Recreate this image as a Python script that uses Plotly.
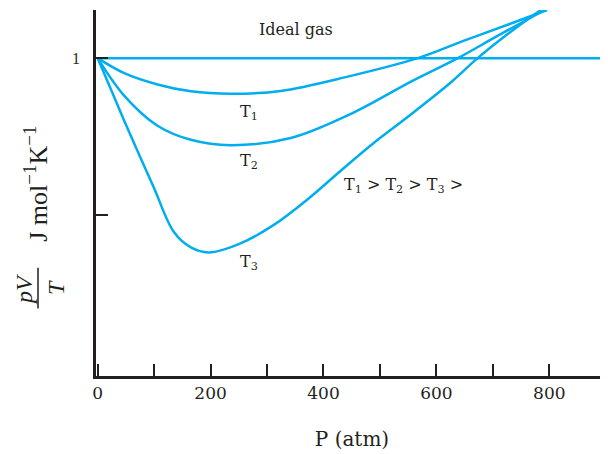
import plotly.graph_objects as go

# pressure (atm) and pV/T (relative units, 1 = ideal gas)
ideal_p = [0, 910]
ideal_v = [1.0, 1.0]

t1_p = [0, 46, 106, 165, 236, 324, 443, 567, 649, 737, 796]
t1_v = [1.0, 0.953, 0.916, 0.894, 0.886, 0.895, 0.941, 1.0, 1.056, 1.114, 1.154]

t2_p = [0, 46, 106, 165, 236, 342, 454, 555, 638, 709, 792]
t2_v = [1.0, 0.882, 0.784, 0.739, 0.722, 0.745, 0.827, 0.925, 1.0, 1.072, 1.154]

t3_p = [0, 23, 46, 99, 135, 165, 197, 253, 312, 372, 431, 489, 549, 626, 673, 727, 785]
t3_v = [1.0, 0.902, 0.804, 0.588, 0.444, 0.395, 0.379, 0.408, 0.467, 0.549, 0.641, 0.729, 0.812, 0.923, 1.0,
        1.078, 1.154]

x_ticks = [0, 100, 200, 300, 400, 500, 600, 700, 800]
x_labels = ["0", "", "200", "", "400", "", "600", "", "800"]

CYAN = "#00aeef"
INK = "#231f20"
SERIF = "Liberation Serif"
WIDE = "DejaVu Serif"

fig = go.Figure()
for px, pv in [(ideal_p, ideal_v), (t1_p, t1_v), (t2_p, t2_v), (t3_p, t3_v)]:
    fig.add_trace(go.Scatter(x=px, y=pv, mode="lines", line=dict(color=CYAN, width=2.5, shape="spline", smoothing=1.0),
                             hoverinfo="skip"))

# curve labels
lbl = dict(font=dict(family=WIDE, size=16, color=INK), showarrow=False)
fig.add_annotation(x=351, y=1.092, text="Ideal gas", **lbl)
fig.add_annotation(x=268, y=0.827, text="T<sub>1</sub>", **lbl)
fig.add_annotation(x=268, y=0.670, text="T<sub>2</sub>", **lbl)
fig.add_annotation(x=268, y=0.346, text="T<sub>3</sub>", **lbl)
fig.add_annotation(x=542, y=0.592, text="T<sub>1</sub> > T<sub>2</sub> > T<sub>3</sub> >", **lbl)


# page pixel -> paper coords (page has an 8px body margin, plot area 96..608 x 10..368)
def px_x(p):
    return (p - 96) / 512


def px_y(p):
    return (368 - p) / 358


# y title drawn as rotated pieces (pV over T, then units)
big = dict(family=SERIF, size=24, color=INK)
rot = dict(xref="paper", yref="paper", textangle=-90, showarrow=False, xanchor="center", yanchor="middle")
fig.add_annotation(x=px_x(24), y=px_y(284), text="<i>pV</i>", font=big, **rot)
fig.add_annotation(x=px_x(56), y=px_y(282), text="<i>T</i>", font=big, **rot)
fig.add_shape(type="line", xref="paper", yref="paper", x0=px_x(38), x1=px_x(38), y0=px_y(262), y1=px_y(302),
              line=dict(color=INK, width=1.5))
sup = "<sup><span style='font-size:19px'>−1</span></sup>"
fig.add_annotation(x=px_x(36), y=px_y(180), text="J mol" + sup + "K" + sup,
                   font=dict(family=SERIF, size=26, color=INK), **rot)

fig.update_xaxes(range=[-3, 904], showline=True, linecolor=INK, linewidth=2.5, showgrid=False, zeroline=False,
                 ticks="inside", ticklen=12, tickwidth=2, tickcolor=INK, tickvals=x_ticks, ticktext=x_labels,
                 tickfont=dict(family=WIDE, size=17, color=INK),
                 title=dict(text="P (atm)", font=dict(family=WIDE, size=20, color=INK), standoff=30))
fig.update_yaxes(range=[-0.016, 1.154], showline=True, linecolor=INK, linewidth=2.5, showgrid=False, zeroline=False,
                 ticks="inside", ticklen=12, tickwidth=2, tickcolor=INK, tickvals=[0.5, 1.0], ticktext=["", "1"],
                 ticklabelstandoff=10, tickfont=dict(family=SERIF, size=16, color=INK))
fig.update_layout(width=600, height=446, margin=dict(l=88, r=0, t=2, b=78), showlegend=False,
                  plot_bgcolor="white", paper_bgcolor="white")
fig.write_html("out.html")
